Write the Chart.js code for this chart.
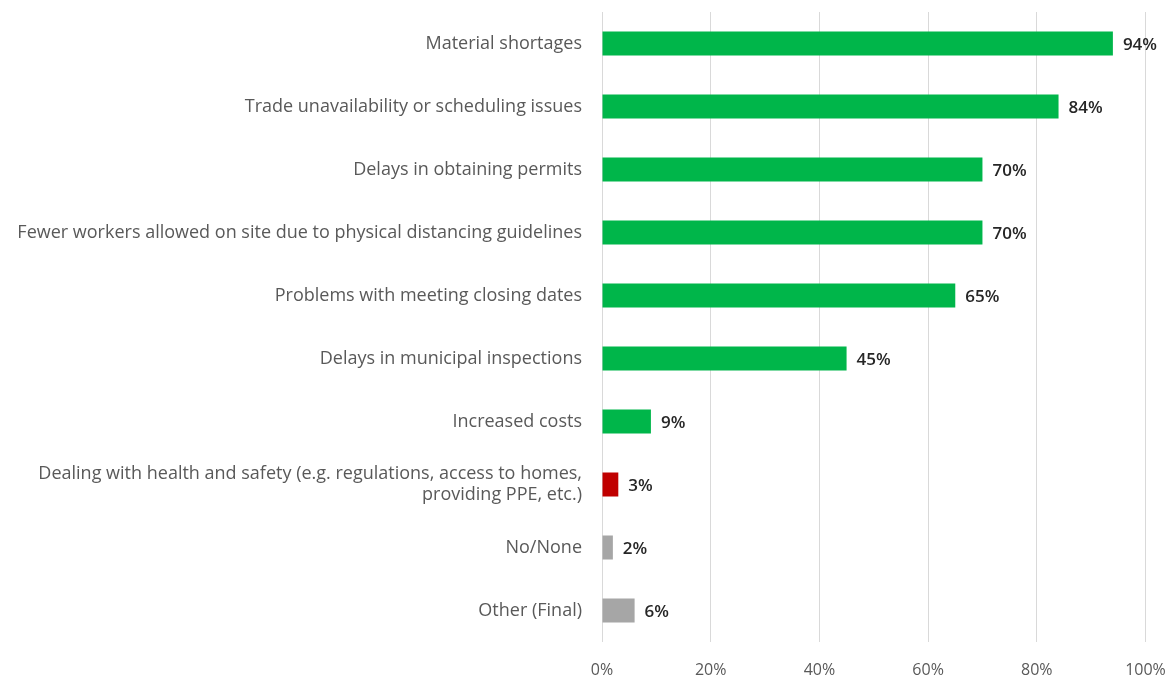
<!DOCTYPE html>
<html>
<head>
<meta charset="utf-8">
<title>Construction delays</title>
<script src="https://cdn.jsdelivr.net/npm/chart.js@4"></script>
<style>
  html, body { margin: 0; padding: 0; background: #fff; }
  #wrap { width: 1175px; height: 680px; position: relative; }
</style>
</head>
<body>
<div id="wrap"><canvas id="delaysChart"></canvas></div>
<script>
// Categories, top to bottom
const reasons = [
  'Material shortages',
  'Trade unavailability or scheduling issues',
  'Delays in obtaining permits',
  'Fewer workers allowed on site due to physical distancing guidelines',
  'Problems with meeting closing dates',
  'Delays in municipal inspections',
  'Increased costs',
  ['Dealing with health and safety (e.g. regulations, access to homes,', 'providing PPE, etc.)'],
  'No/None',
  'Other (Final)'
];
// Share of respondents (%)
const shares = [94, 84, 70, 70, 65, 45, 9, 3, 2, 6];
// Axis ticks (%)
const axisTicks = [0, 20, 40, 60, 80, 100];

const GREEN = '#00B64A';
const RED = '#C00000';
const GREY = '#A6A6A6';
const barColors = [GREEN, GREEN, GREEN, GREEN, GREEN, GREEN, GREEN, RED, GREY, GREY];

const FONT = '"Open Sans", sans-serif';

// Draw the "NN%" text just past the end of each bar
const valueLabels = {
  id: 'valueLabels',
  afterDatasetsDraw(chart) {
    const ctx = chart.ctx;
    const meta = chart.getDatasetMeta(0);
    ctx.save();
    ctx.font = '600 17px ' + FONT;
    ctx.fillStyle = '#262626';
    ctx.textAlign = 'left';
    ctx.textBaseline = 'middle';
    meta.data.forEach((bar, i) => {
      ctx.fillText(shares[i] + '%', bar.x + 10, bar.y + 2);
    });
    ctx.restore();
  }
};

const ctx = document.getElementById('delaysChart').getContext('2d');
new Chart(ctx, {
  type: 'bar',
  data: {
    labels: reasons,
    datasets: [{
      data: shares,
      backgroundColor: barColors,
      borderWidth: 0,
      categoryPercentage: 1,
      barPercentage: 0.38
    }]
  },
  options: {
    indexAxis: 'y',
    responsive: true,
    maintainAspectRatio: false,
    animation: false,
    layout: { padding: { top: 12, right: 29.5, bottom: 0, left: 0 } },
    plugins: {
      legend: { display: false },
      tooltip: { enabled: false }
    },
    scales: {
      x: {
        min: 0,
        max: 100,
        afterBuildTicks: scale => {
          scale.ticks = axisTicks.map(v => ({ value: v }));
        },
        afterFit: scale => {
          // fixed axis band, no extra side padding for edge labels
          scale.height = 38;
          scale.paddingLeft = 0;
          scale.paddingRight = 0;
        },
        grid: { color: '#D9D9D9', lineWidth: 1, drawTicks: false },
        border: { display: false },
        ticks: {
          padding: 19,
          color: '#595959',
          font: { family: FONT, size: 16 },
          callback: v => v + '%'
        }
      },
      y: {
        afterFit: scale => {
          scale.width = 602;
          scale.paddingTop = 0;
          scale.paddingBottom = 0;
        },
        grid: { display: false, drawTicks: false },
        border: { display: false },
        ticks: {
          padding: 20,
          color: '#595959',
          font: { family: FONT, size: 18 }
        }
      }
    }
  },
  plugins: [valueLabels]
});
</script>
</body>
</html>
